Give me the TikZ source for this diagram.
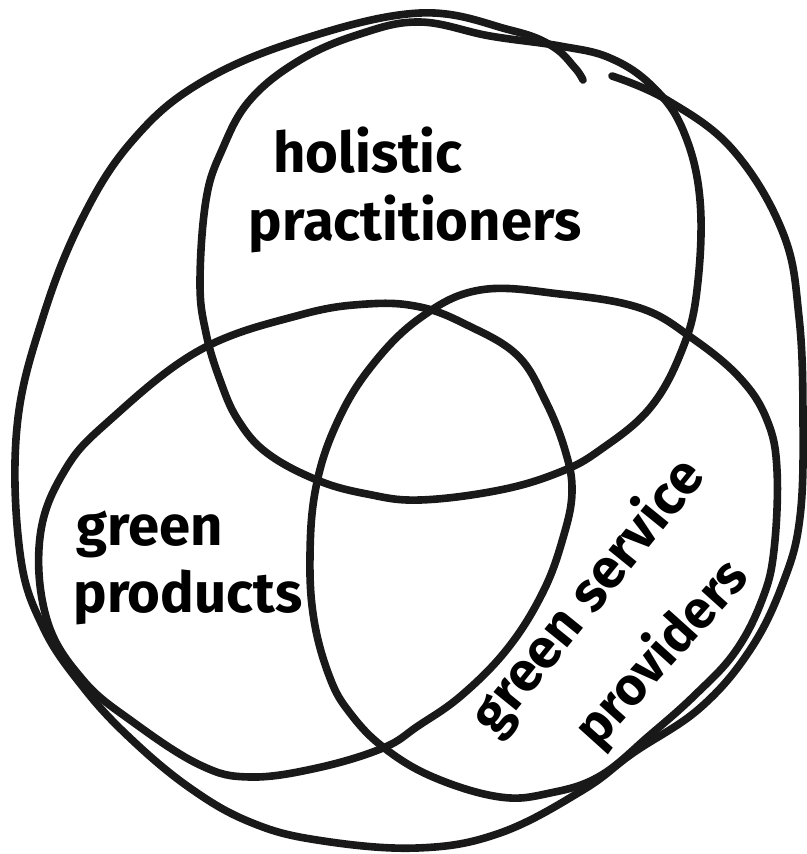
\documentclass[tikz,border=0pt]{standalone}
\usepackage{fontspec}
\setmainfont{Fira Sans}
\begin{document}
\begin{tikzpicture}[x=0.03cm,y=-0.03cm,
  loop/.style={draw=black!90,line width=6.5pt,line cap=round,line join=round},
  lab/.style={font=\fontsize{48}{56}\selectfont\bfseries,inner sep=0pt,anchor=base},
  rlab/.style={lab,font=\fontsize{47}{56}\selectfont\bfseries}]
\fill[white] (0,0) rectangle (807,854);
\useasboundingbox (0,0) rectangle (807,854);
% outer loop (one stroke, ending in a hook at the top)
\draw[loop] plot[smooth,tension=0.65] coordinates {
  (612,76) (667,100) (733,150) (783,233) (799,317) (803,417) (800,517)
  (783,583) (750,650) (700,708) (633,753) (583,790) (500,833) (417,848)
  (317,840) (250,822) (190,788) (130,738) (83,687) (43,627) (20,553)
  (17,427) (43,317) (83,217) (133,140) (200,83) (300,40) (420,13)
  (510,30) (552,46) (575,68) (583,80)};
% holistic practitioners
\draw[loop] plot[smooth cycle,tension=0.65] coordinates {
  (420,22) (490,36) (560,46) (610,58) (652,86) (683,130) (700,200)
  (697,290) (682,350) (650,408) (600,450) (560,472) (500,490) (420,500)
  (367,494) (317,480) (267,453) (238,420) (220,380) (206,333) (200,283)
  (206,200) (222,150) (250,100) (300,60) (360,34)};
% green products
\draw[loop] plot[smooth cycle,tension=0.65] coordinates {
  (110,420) (200,350) (300,315) (367,304) (420,307) (467,325) (517,355)
  (545,400) (565,450) (572,492) (563,538) (543,592) (508,648) (462,695)
  (418,726) (383,748) (317,768) (250,777) (200,765) (133,722) (83,680)
  (47,620) (40,537) (65,470)};
% green service providers
\draw[loop] plot[smooth cycle,tension=0.65] coordinates {
  (480,290) (560,294) (640,308) (692,338) (740,378) (767,420) (777,470)
  (774,550) (762,600) (735,652) (695,695) (650,735) (600,776) (550,793)
  (500,797) (433,777) (383,747) (350,713) (330,678) (314,620) (310,555)
  (316,487) (336,425) (370,368) (420,318)};
% labels
\node[lab] (t1a) at (368,172) {holistic};
\node[lab] (t1b) at (415,240) {practitioners};
\node[lab] (t2a) at (150,545) {green};
\node[lab] (t2b) at (188,612) {products};
\node[rlab,rotate=51] (t3a) at (601,607) {green service};
\node[rlab,font=\fontsize{45}{54}\selectfont\bfseries,rotate=48] (t3b) at (674,664) {providers};
\end{tikzpicture}
\end{document}
